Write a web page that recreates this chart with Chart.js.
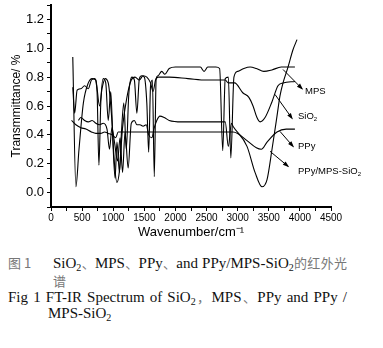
<!DOCTYPE html>
<html>
<head>
<meta charset="utf-8">
<script src="https://cdn.jsdelivr.net/npm/chart.js@4.4.0/dist/chart.umd.min.js"></script>
<style>
body { margin: 0; background: #fff; width: 383px; height: 348px; overflow: hidden; position: relative; }
#chart { position: absolute; left: 0; top: 0; }
.cap { position: absolute; font-family: "Liberation Serif", "Times New Roman", serif; font-size: 15px; color: #111; white-space: nowrap; line-height: 16px; }
.just { text-align: justify; text-align-last: justify; }
.zh { font-family: "Noto Sans CJK SC", sans-serif; color: #777; font-size: 13px; }
sub { font-size: 10px; vertical-align: -3px; line-height: 0; }
</style>
</head>
<body>
<canvas id="chart" width="383" height="240"></canvas>
<div class="cap zh" style="left:8px;top:255px;">图 1</div>
<div class="cap just" style="left:53px;top:255px;width:294px;">SiO<sub>2</sub><span class="zh">、</span>MPS<span class="zh">、</span>PPy<span class="zh">、</span>and PPy/MPS-SiO<sub>2</sub><span class="zh">的红外光</span></div>
<div class="cap zh" style="left:53px;top:273px;">谱</div>
<div class="cap just" style="left:8px;top:289px;width:339px;">Fig 1 FT-IR Spectrum of SiO<sub>2</sub><span class="zh">，</span>MPS<span class="zh">、</span>PPy and PPy /</div>
<div class="cap" style="left:48px;top:305px;">MPS-SiO<sub>2</sub></div>
<script>
// spectra: [wavenumber, transmittance]
const mps = [
    [350, 0.73], [380, 0.55], [420, 0.71], [480, 0.72], [540, 0.74], [600, 0.72], [650, 0.78],
    [700, 0.79], [740, 0.70], [770, 0.19], [800, 0.62], [840, 0.79], [880, 0.76], [920, 0.50],
    [960, 0.70], [1000, 0.30], [1030, 0.10], [1060, 0.35], [1100, 0.14], [1130, 0.40], [1170, 0.62],
    [1210, 0.30], [1250, 0.68], [1300, 0.80], [1340, 0.78], [1380, 0.55], [1420, 0.79], [1460, 0.81],
    [1500, 0.80], [1540, 0.62], [1570, 0.28], [1600, 0.74], [1630, 0.78], [1660, 0.11], [1690, 0.79],
    [1720, 0.81], [1780, 0.84], [1830, 0.82], [1900, 0.86], [2000, 0.87], [2200, 0.87], [2400, 0.87],
    [2460, 0.84], [2520, 0.87], [2650, 0.87], [2710, 0.86], [2760, 0.29], [2800, 0.79], [2850, 0.80],
    [2890, 0.24], [2940, 0.80], [3000, 0.84], [3100, 0.86], [3200, 0.87], [3300, 0.86], [3420, 0.84],
    [3550, 0.85], [3700, 0.87], [3800, 0.87], [3920, 0.87]
];
const sio2 = [
    [350, 0.94], [400, 0.04], [450, 0.30], [520, 0.62], [600, 0.76], [660, 0.79], [720, 0.78],
    [780, 0.60], [820, 0.72], [870, 0.79], [920, 0.76], [970, 0.55], [1020, 0.20], [1060, 0.07],
    [1100, 0.15], [1150, 0.45], [1220, 0.66], [1290, 0.78], [1350, 0.80], [1420, 0.78], [1480, 0.81],
    [1540, 0.80], [1600, 0.76], [1640, 0.70], [1680, 0.78], [1720, 0.80], [1900, 0.80], [2200, 0.79],
    [2500, 0.78], [2800, 0.78], [2850, 0.76], [2950, 0.76], [3086, 0.69], [3180, 0.66], [3247, 0.60],
    [3310, 0.52], [3360, 0.49], [3440, 0.52], [3552, 0.63], [3648, 0.74], [3729, 0.76], [3922, 0.77]
];
const ppy = [
    [330, 0.50], [400, 0.47], [480, 0.45], [560, 0.44], [650, 0.42], [720, 0.41], [800, 0.41],
    [860, 0.42], [920, 0.41], [980, 0.40], [1040, 0.38], [1080, 0.42], [1200, 0.42], [1600, 0.42],
    [2000, 0.42], [2400, 0.42], [2800, 0.42], [2925, 0.42], [3000, 0.41], [3150, 0.36], [3300, 0.31],
    [3380, 0.30], [3472, 0.35], [3632, 0.42], [3780, 0.44], [3920, 0.44]
];
const ppyMpsSio2 = [
    [440, 0.50], [480, 0.52], [540, 0.50], [600, 0.49], [660, 0.50], [720, 0.48], [780, 0.47],
    [840, 0.48], [900, 0.44], [940, 0.30], [980, 0.45], [1020, 0.35], [1070, 0.22], [1110, 0.38],
    [1150, 0.14], [1190, 0.42], [1240, 0.17], [1290, 0.48], [1340, 0.50], [1380, 0.47], [1430, 0.47],
    [1480, 0.46], [1530, 0.47], [1570, 0.40], [1620, 0.38], [1660, 0.45], [1700, 0.50], [1750, 0.53],
    [1820, 0.52], [1900, 0.50], [2100, 0.49], [2500, 0.49], [2800, 0.49], [2850, 0.32], [2900, 0.48],
    [2925, 0.46], [3150, 0.32], [3279, 0.14], [3391, 0.04], [3472, 0.09], [3552, 0.30], [3632, 0.53],
    [3680, 0.67], [3729, 0.76], [3809, 0.87], [3889, 0.99], [3954, 1.06]
];

// curve labels with arrows: arrow tail, arrow head, text anchor
const tags = [
    { text: 'MPS', sub: '', from: [3729, 0.853], to: [4034, 0.72], at: [4082, 0.70] },
    { text: 'SiO', sub: '2', from: [3600, 0.68], to: [3873, 0.515], at: [3970, 0.527] },
    { text: 'PPy', sub: '', from: [3680, 0.424], to: [3890, 0.32], at: [3970, 0.32] },
    { text: 'PPy/MPS-SiO', sub: '2', from: [3520, 0.286], to: [3810, 0.182], at: [3970, 0.147] }
];

const FONT = '"Liberation Sans", Arial, sans-serif';

function line(pts) {
    return {
        data: pts.map(p => ({ x: p[0], y: p[1] })),
        borderColor: '#000',
        borderWidth: 1.1,
        pointRadius: 0,
        fill: false,
        cubicInterpolationMode: 'monotone'
    };
}

const tagPlugin = {
    id: 'tags',
    afterDatasetsDraw(chart) {
        const { ctx, scales: { x, y } } = chart;
        ctx.save();
        ctx.strokeStyle = '#000';
        ctx.fillStyle = '#000';
        ctx.lineWidth = 1;
        tags.forEach(t => {
            const x0 = x.getPixelForValue(t.from[0]), y0 = y.getPixelForValue(t.from[1]);
            const x1 = x.getPixelForValue(t.to[0]), y1 = y.getPixelForValue(t.to[1]);
            const a = Math.atan2(y1 - y0, x1 - x0);
            ctx.beginPath();
            ctx.moveTo(x0, y0);
            ctx.lineTo(x1, y1);
            ctx.stroke();
            ctx.beginPath();
            ctx.moveTo(x1 + 1.5 * Math.cos(a), y1 + 1.5 * Math.sin(a));
            ctx.lineTo(x1 - 5 * Math.cos(a) + 2.2 * Math.sin(a), y1 - 5 * Math.sin(a) - 2.2 * Math.cos(a));
            ctx.lineTo(x1 - 5 * Math.cos(a) - 2.2 * Math.sin(a), y1 - 5 * Math.sin(a) + 2.2 * Math.cos(a));
            ctx.closePath();
            ctx.fill();

            const lx = x.getPixelForValue(t.at[0]), ly = y.getPixelForValue(t.at[1]);
            ctx.font = '9.5px ' + FONT;
            ctx.textBaseline = 'middle';
            ctx.fillText(t.text, lx, ly);
            if (t.sub) {
                const w = ctx.measureText(t.text).width;
                ctx.font = '6px ' + FONT;
                ctx.fillText(t.sub, lx + w, ly + 3);
            }
        });
        ctx.restore();
    }
};

const ctx = document.getElementById('chart').getContext('2d');
const chart = new Chart(ctx, {
    type: 'line',
    data: {
        datasets: [line(mps), line(sio2), line(ppy), line(ppyMpsSio2)]
    },
    options: {
        responsive: false,
        animation: false,
        layout: { padding: { left: 0, right: 52, top: 5, bottom: 0 } },
        plugins: { legend: { display: false }, tooltip: { enabled: false } },
        scales: {
            x: {
                type: 'linear',
                min: 0,
                max: 4500,
                ticks: {
                    stepSize: 250,
                    autoSkip: false,
                    maxRotation: 0,
                    padding: 1,
                    color: '#000',
                    font: { family: FONT, size: 10 },
                    callback: v => (v % 500 === 0 ? v : '')
                },
                grid: { drawOnChartArea: false, color: '#000', tickLength: 4 },
                border: { color: '#000', width: 2 },
                title: {
                    display: true,
                    text: 'Wavenumber/cm⁻¹',
                    color: '#000',
                    font: { family: FONT, size: 13 },
                    padding: { top: 0, bottom: 0 }
                },
                afterFit: s => { s.height = 33; s.paddingLeft = 0; s.paddingRight = 0; }
            },
            y: {
                min: -0.1,
                max: 1.3,
                ticks: {
                    stepSize: 0.1,
                    autoSkip: false,
                    padding: 3,
                    color: '#000',
                    font: { family: FONT, size: 13 },
                    callback: v => {
                        const k = Math.round(v * 10);
                        return (k >= 0 && k <= 12 && k % 2 === 0) ? (k / 10).toFixed(1) : '';
                    }
                },
                grid: { drawOnChartArea: false, color: '#000', tickLength: 4 },
                border: { color: '#000', width: 2 },
                title: {
                    display: true,
                    text: 'Transmmittance/ %',
                    color: '#000',
                    font: { family: FONT, size: 12 },
                    padding: { top: 9, bottom: 0 }
                },
                afterFit: s => { s.width = 51; s.paddingTop = 0; s.paddingBottom = 0; }
            }
        }
    },
    plugins: [tagPlugin]
});
</script>
</body>
</html>
